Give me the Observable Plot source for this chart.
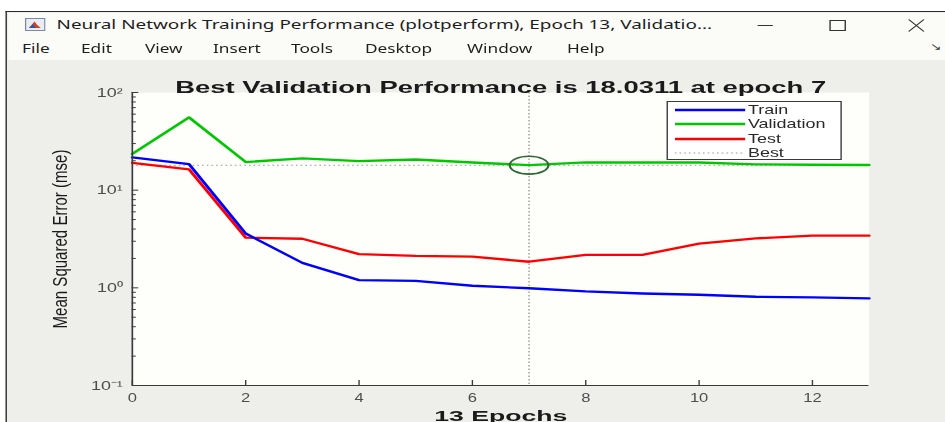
<!DOCTYPE html>
<html>
<head>
<meta charset="utf-8">
<script src="https://cdn.jsdelivr.net/npm/d3@7"></script>
<script src="https://cdn.jsdelivr.net/npm/@observablehq/plot@0.6"></script>
<style>
  html, body { margin: 0; padding: 0; background: #ffffff; overflow: hidden; }
  body { width: 945px; height: 422px; position: relative; }
  #wrap { position: absolute; left: 0; top: 0; width: 685px; height: 422px;
          transform: scaleX(1.38); transform-origin: 0 0; }
  .abs { position: absolute; }
  #win { left: 4px; top: 11px; width: 700px; height: 420px; background: #eeeeeb;
         border-left: 1.5px solid #2b2b2b; border-top: 1.5px solid #2b2b2b; }
  #titlebar { left: 5.5px; top: 12.5px; width: 700px; height: 26px; background: #fbfbf7; }
  #menubar { left: 5.5px; top: 38.5px; width: 700px; height: 21.5px; background: #fbfbf7; }
  .wt { font-family: "Noto Sans", "Open Sans", sans-serif; font-size: 12.5px; color: #1e1e1e;
        white-space: nowrap; transform-origin: 0 50%; line-height: 16px; }
  .menu { font-family: "Noto Sans", "Open Sans", sans-serif; font-size: 12.5px; color: #1e1e1e;
          white-space: nowrap; line-height: 16px; top: 41px; }
  #legend { left: 483px; top: 100.5px; width: 127px; height: 59px; background: #ffffff;
            border: 1px solid #3a3a3a; box-sizing: border-box;
            font-family: "Liberation Sans", Arial, sans-serif; font-size: 13px; color: #2a2a2a; }
  .lrow { position: absolute; left: 0; height: 14px; width: 125px; }
  .lrow svg { position: absolute; left: 5px; top: 0; }
  .lrow span { position: absolute; left: 58px; top: -1px; line-height: 15px; }
  #plot { left: 0; top: 60px; }
</style>
</head>
<body>
<div id="wrap">
  <div id="win" class="abs"></div>
  <div id="titlebar" class="abs"></div>
  <div id="menubar" class="abs"></div>
  <!-- window icon -->
  <svg class="abs" style="left:17.5px;top:18px" width="15" height="13" viewBox="0 0 15 13">
    <rect x="0.5" y="0.5" width="14" height="12" fill="#e9ecf2" stroke="#7a8aa6" stroke-width="1"/>
    <path d="M3 10 L7 3.5 L9 7 L11.5 10 Z" fill="#d6401c"/>
    <path d="M3 10 L6 6 L8 10 Z" fill="#2f57a8"/>
  </svg>
  <div id="wtitle" class="abs wt" style="left:41.3px;top:17px">Neural Network Training Performance (plotperform), Epoch 13, Validatio...</div>
  <!-- window buttons -->
  <svg class="abs" style="left:548px;top:18px" width="130" height="16" viewBox="0 0 130 16">
    <line x1="1" y1="7.5" x2="12" y2="7.5" stroke="#333" stroke-width="1"/>
    <rect x="53.5" y="2.5" width="11" height="10" fill="none" stroke="#333" stroke-width="1"/>
    <path d="M110.5 1.5 L121.5 13.5 M121.5 1.5 L110.5 13.5" stroke="#333" stroke-width="1.1" fill="none"/>
  </svg>
  <div class="abs" style="left:674px;top:41px;font-family:'DejaVu Sans';font-size:10px;line-height:12px;color:#333">&#x2198;</div>
  <!-- menu items -->
  <div class="abs menu" style="left:16px">File</div>
  <div class="abs menu" style="left:58.7px">Edit</div>
  <div class="abs menu" style="left:105px">View</div>
  <div class="abs menu" style="left:154.3px">Insert</div>
  <div class="abs menu" style="left:210.9px">Tools</div>
  <div class="abs menu" style="left:264.5px">Desktop</div>
  <div class="abs menu" style="left:338.4px">Window</div>
  <div class="abs menu" style="left:410.9px">Help</div>
  <div id="plot" class="abs"></div>
  <div id="legend" class="abs"></div>
</div>
<script>
// ---- data ----
const epochs = [0, 1, 2, 3, 4, 5, 6, 7, 8, 9, 10, 11, 12, 13];
const train = [21.7, 18.5, 3.6, 1.8, 1.2, 1.18, 1.05, 0.99, 0.92, 0.875, 0.85, 0.81, 0.80, 0.78];
const validation = [23.5, 55.6, 19.4, 21.2, 19.8, 20.6, 19.2, 18.0311, 19.3, 19.2, 19.2, 18.4, 18.2, 18.1];
const test = [19.0, 16.3, 3.26, 3.18, 2.21, 2.12, 2.09, 1.85, 2.17, 2.17, 2.83, 3.21, 3.42, 3.42];
const bestEpoch = 7;
const bestValue = 18.0311;
const seriesNames = ["Train", "Validation", "Test", "Best"];
const seriesColors = ["#0000ff", "#00c800", "#ff0000", "#9a9a9a"];
const xTicks = [0, 2, 4, 6, 8, 10, 12];
const yMajor = [0.1, 1, 10, 100];
const yTickLabels = ["10\u207B\u00B9", "10\u2070", "10\u00B9", "10\u00B2"];
const yMinor = [0.2, 0.3, 0.4, 0.5, 0.6, 0.7, 0.8, 0.9, 2, 3, 4, 5, 6, 7, 8, 9, 20, 30, 40, 50, 60, 70, 80, 90];
const titleText = "Best Validation Performance is " + bestValue + " at epoch " + bestEpoch;
const xLabel = "13 Epochs";
const yLabel = "Mean Squared Error (mse)";

// ---- layout ----
const S = 1.38;               // horizontal stretch of the reference picture
const W = 685, H = 362;
const mL = 95.4, mR = 55.7, mT = 32, mB = 37;
const plotW = W - mL - mR, plotH = H - mT - mB;

const rows = (vals) => epochs.map((e, i) => ({epoch: e, v: vals[i]}));

// ellipse marker (MATLAB circle, drawn on a stretched figure)
const ellipse = {
  draw(ctx, size) {
    const r = Math.sqrt(size / Math.PI);
    const rx = r, ry = r * 0.64, k = 0.5523;
    ctx.moveTo(rx, 0);
    ctx.bezierCurveTo(rx, ry * k, rx * k, ry, 0, ry);
    ctx.bezierCurveTo(-rx * k, ry, -rx, ry * k, -rx, 0);
    ctx.bezierCurveTo(-rx, -ry * k, -rx * k, -ry, 0, -ry);
    ctx.bezierCurveTo(rx * k, -ry, rx, -ry * k, rx, 0);
    ctx.closePath();
  }
};

const chart = Plot.plot({
  width: W, height: H,
  marginLeft: mL, marginRight: mR, marginTop: mT, marginBottom: mB,
  style: {background: "transparent", fontFamily: "'Liberation Sans', Arial, sans-serif", fontSize: "13px", color: "#4a4a4a", overflow: "visible"},
  x: {domain: [0, 13]},
  y: {type: "log", domain: [0.1, 100]},
  marks: [
    Plot.frame({fill: "#fefefb", stroke: null}),
    Plot.ruleY([bestValue], {stroke: seriesColors[3], strokeWidth: 1, strokeDasharray: "1.2,2.2"}),
    Plot.ruleX([bestEpoch], {stroke: "#b0b0b0", strokeWidth: 1.3, strokeDasharray: "1.5,2"}),
    Plot.line(rows(validation), {x: "epoch", y: "v", stroke: seriesColors[1], strokeWidth: 2.3}),
    Plot.line(rows(test), {x: "epoch", y: "v", stroke: seriesColors[2], strokeWidth: 2.3}),
    Plot.line(rows(train), {x: "epoch", y: "v", stroke: seriesColors[0], strokeWidth: 2.3}),
    Plot.dot([{epoch: bestEpoch, v: bestValue}], {x: "epoch", y: "v", r: 14, symbol: ellipse, stroke: "#2f6a33", strokeWidth: 1.6, fill: "none"}),
    // axis lines
    Plot.ruleX([0], {stroke: "#3a3a3a", strokeWidth: 1.2}),
    Plot.ruleY([0.1], {stroke: "#3a3a3a", strokeWidth: 1.2}),
    // inward ticks
    Plot.tickY(yMajor, {y: d => d, insetRight: plotW - 4.8, stroke: "#3a3a3a", strokeWidth: 1}),
    Plot.tickY(yMinor, {y: d => d, insetRight: plotW - 3, stroke: "#3a3a3a", strokeWidth: 1}),
    Plot.tickX(xTicks, {x: d => d, insetTop: plotH - 5, stroke: "#3a3a3a", strokeWidth: 1}),
    // tick labels
    Plot.axisY({ticks: yMajor, tickSize: 0, tickPadding: 7, tickFormat: d => yTickLabels[yMajor.indexOf(d)], label: null, fill: "#4d4d4d", fontSize: 13}),
    Plot.axisX({ticks: xTicks, tickSize: 0, tickPadding: 8, label: null, fill: "#4d4d4d", fontSize: 12}),
    // title & axis labels
    Plot.text([titleText], {frameAnchor: "top", dy: -12, fontWeight: "bold", fontSize: 17, fill: "#1a1a1a"}),
    Plot.text([xLabel], {frameAnchor: "bottom", dy: 35, fontWeight: "bold", fontSize: 15.5, fill: "#1a1a1a"}),
    Plot.text([yLabel], {frameAnchor: "left", textAnchor: "middle", dx: -52, rotate: -90, fontSize: 15, fill: "#1a1a1a"})
  ]
});
document.getElementById("plot").appendChild(chart);

// stretch texts to the lengths they have in the reference
const fitLengths = new Map([[titleText, 651 / S], [xLabel, 133 / S], [yLabel, 179]]);
chart.querySelectorAll("text").forEach(t => {
  const L = fitLengths.get(t.textContent);
  if (L) { t.setAttribute("textLength", L); t.setAttribute("lengthAdjust", "spacingAndGlyphs"); }
});

// legend
const legend = document.getElementById("legend");
const rowTops = [1, 15.5, 30, 44.5];
seriesNames.forEach((name, i) => {
  const row = document.createElement("div");
  row.className = "lrow";
  row.style.top = rowTops[i] + "px";
  const dash = name === "Best" ? ' stroke-dasharray="1.2,2.2"' : "";
  const sw = name === "Best" ? 1 : 2.3;
  row.innerHTML = `<svg width="52" height="14"><line x1="0" y1="7" x2="51" y2="7" stroke="${seriesColors[i]}" stroke-width="${sw}"${dash}/></svg><span>${name}</span>`;
  legend.appendChild(row);
});

// fit window title text to its width in the reference
const wt = document.getElementById("wtitle");
wt.style.transform = `scaleX(${474.6 / wt.offsetWidth})`;
</script>
</body>
</html>
